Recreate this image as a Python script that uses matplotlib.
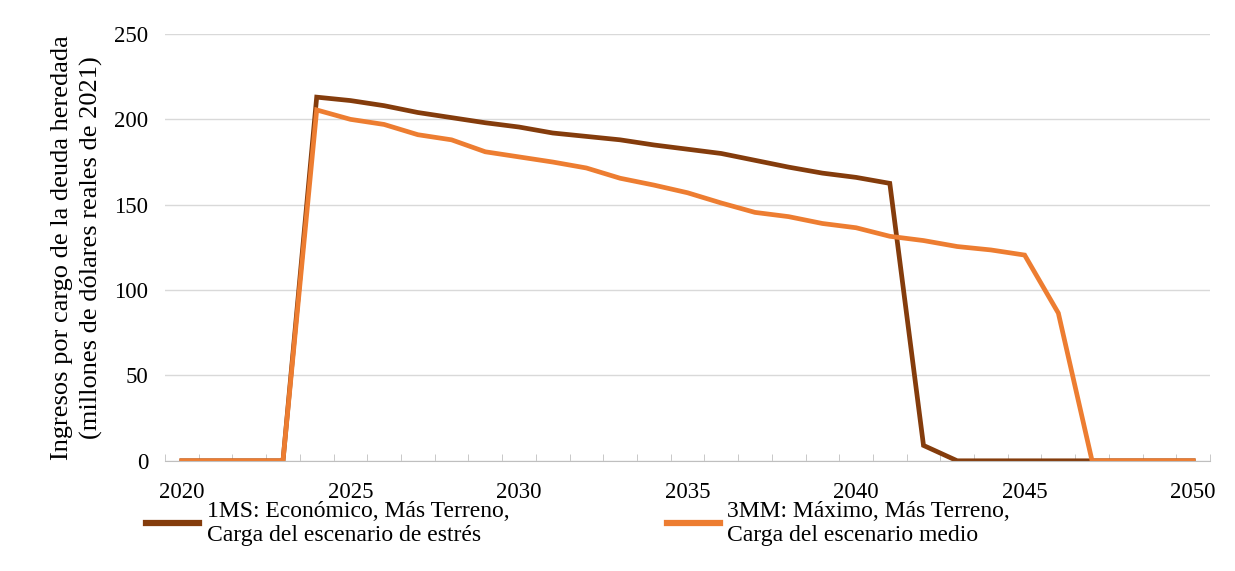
import matplotlib.pyplot as plt
from matplotlib.lines import Line2D

plt.rcParams['font.family'] = ['Liberation Serif', 'DejaVu Serif']

years = list(range(2020, 2051))

# 1MS: Económico, Más Terreno, Carga del escenario de estrés
serie_1ms = [0, 0, 0, 0, 213, 211, 208, 204, 201, 198, 195.5, 192, 190, 188,
             185, 182.5, 180, 176, 172, 168.5, 166, 162.5, 9, 0, 0, 0, 0, 0,
             0, 0, 0]
# 3MM: Máximo, Más Terreno, Carga del escenario medio
serie_3mm = [0, 0, 0, 0, 205.5, 200, 197, 191, 188, 181, 178, 175, 171.5, 165.5,
             161.5, 157, 151, 145.5, 143, 139, 136.5, 131.5, 129, 125.5, 123.5,
             120.5, 86.5, 0, 0, 0, 0]

labels = ['1MS: Económico, Más Terreno,\nCarga del escenario de estrés',
          '3MM: Máximo, Más Terreno,\nCarga del escenario medio']
colores = ['#843C0C', '#ED7D31']

fig = plt.figure(figsize=(12.35, 5.71), dpi=100)
ax = fig.add_axes([0.1336, 0.193, 0.8462, 0.7475])

ax.plot(years, serie_1ms, color=colores[0], lw=3.4, solid_joinstyle='miter')
ax.plot(years, serie_3mm, color=colores[1], lw=3.4, solid_joinstyle='miter')

ax.set_xlim(2019.5, 2050.5)
ax.set_ylim(0, 250)
ax.set_xticks(range(2020, 2051, 5))
ax.set_yticks(range(0, 251, 50))
ax.grid(axis='y', color='#d9d9d9', lw=1)
ax.set_axisbelow(True)
for s in ['top', 'right', 'left']:
    ax.spines[s].set_visible(False)
ax.spines['bottom'].set_color('#bfbfbf')
ax.tick_params(axis='y', length=0, labelsize=16.5, pad=12)
ax.tick_params(axis='x', length=0, labelsize=16.5, pad=15)
# marcas menores entre categorias
ax.set_xticks([y + 0.5 for y in range(2019, 2051)], minor=True)
ax.tick_params(axis='x', which='minor', length=5, direction='in', color='#bfbfbf')

ax.set_ylabel('Ingresos por cargo de la deuda heredada\n(millones de dólares reales de 2021)',
              fontsize=19, linespacing=1.4, labelpad=8)

# leyenda en dos bloques
h1 = Line2D([], [], color=colores[0], lw=4.5)
h2 = Line2D([], [], color=colores[1], lw=4.5)
fig.legend([h1], [labels[0]], loc='upper left', bbox_to_anchor=(0.101, 0.16),
           frameon=False, fontsize=17, handlelength=2.25, handletextpad=0.35,
           labelspacing=0.2)
fig.legend([h2], [labels[1]], loc='upper left', bbox_to_anchor=(0.523, 0.16),
           frameon=False, fontsize=17, handlelength=2.25, handletextpad=0.3,
           labelspacing=0.2)

fig.savefig('out.png', dpi=100)
